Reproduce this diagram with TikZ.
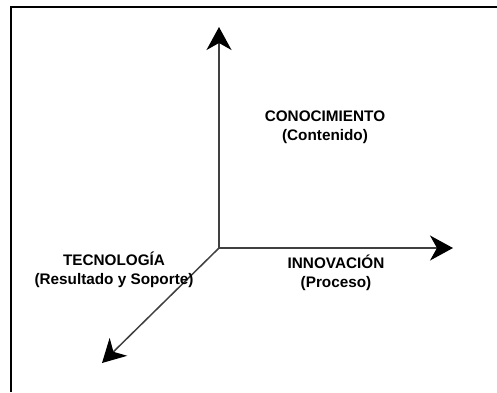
\documentclass[tikz,border=0pt]{standalone}
\usepackage{fontspec}
\setmainfont{Liberation Sans}
\usetikzlibrary{arrows.meta}
\begin{document}
\begin{tikzpicture}[x=1pt,y=-1pt,
  axis/.style={line width=1.5pt, draw=black!75,
    -{Stealth[length=23pt,width=25pt,inset=7pt,color=black]}},
  lbl/.style={align=center, font=\fontsize{15.3}{18.5}\selectfont\bfseries, inner sep=0pt}]
  % white page
  \fill[white] (0,0) rectangle (497,392);
  \useasboundingbox (0,0) rectangle (497,392);
  % open frame: left and top edges
  \draw[line width=2.2pt] (11,392) -- (11,7) -- (497,7);
  % axes
  \coordinate (o) at (219,248);
  \coordinate (up) at (219,27);
  \coordinate (right) at (453,248);
  \coordinate (down) at (102,363);
  \draw[axis] (o) -- (up);
  \draw[axis] (o) -- (right);
  \draw[axis] (o) -- (down);
  % labels
  \node[lbl] (con) at (325,127) {CONOCIMIENTO\\(Contenido)};
  \node[lbl] (tec) at (114,270) {TECNOLOGÍA\\(Resultado y Soporte)};
  \node[lbl] (inn) at (336,273) {INNOVACIÓN\\(Proceso)};
\end{tikzpicture}
\end{document}
